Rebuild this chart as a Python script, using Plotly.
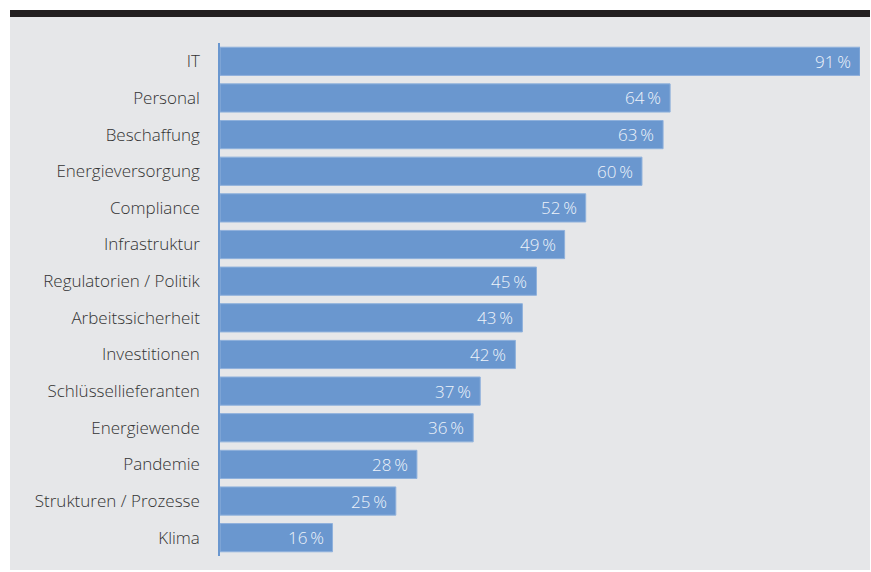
import plotly.graph_objects as go

categories = ["IT", "Personal", "Beschaffung", "Energieversorgung", "Compliance",
              "Infrastruktur", "Regulatorien / Politik", "Arbeitssicherheit",
              "Investitionen", "Schlüssellieferanten", "Energiewende", "Pandemie",
              "Strukturen / Prozesse", "Klima"]
values = [91, 64, 63, 60, 52, 49, 45, 43, 42, 37, 36, 28, 25, 16]

W, H = 871, 572
BAR = "#6a97cf"
PANEL = "#e6e7e9"
FONT = "Open Sans"

fig = go.Figure()
fig.add_trace(go.Bar(
    x=values, y=categories, orientation="h",
    marker=dict(color=BAR, line=dict(color="#8fb1dc", width=1)),
    width=0.77, hoverinfo="skip",
))

for c, v in zip(categories, values):
    fig.add_annotation(x=v, y=c, xref="x", yref="y", text=f"{v}\u2009%",
                       showarrow=False, xanchor="right", xshift=-7,
                       font=dict(family=FONT, size=17, color="#eef3fa", weight=300))

fig.update_layout(
    width=W, height=H,
    margin=dict(l=0, r=0, t=0, b=0),
    paper_bgcolor="white", plot_bgcolor=PANEL,
    showlegend=False,
    font=dict(family=FONT, size=17, color="#333333", weight=300),
    xaxis=dict(domain=[220 / W, 860 / W], range=[0, 91], visible=False, fixedrange=True),
    yaxis=dict(domain=[1 - 556 / H, 1 - 43 / H], autorange="reversed",
               showline=True, linecolor="#6a97cf", linewidth=1.5,
               showgrid=False, zeroline=False, ticks="",
               tickfont=dict(family=FONT, size=17, color="#333333", weight=300),
               ticklabelstandoff=15, fixedrange=True),
    shapes=[
        dict(type="rect", xref="paper", yref="paper", layer="below",
             x0=10 / W, x1=870 / W, y0=1 - 570 / H, y1=1 - 17 / H,
             fillcolor=PANEL, line=dict(width=0)),
        dict(type="rect", xref="paper", yref="paper", layer="below",
             x0=10 / W, x1=870 / W, y0=1 - 17 / H, y1=1 - 10 / H,
             fillcolor="#231f20", line=dict(width=0)),
    ],
)

fig.write_html("out.html")
